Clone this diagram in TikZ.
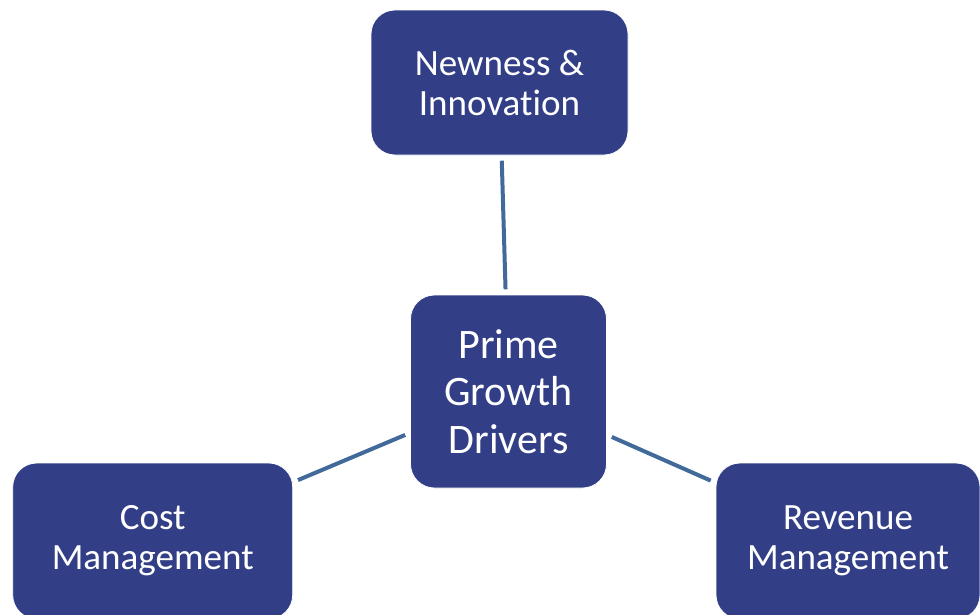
\documentclass[tikz,border=0pt]{standalone}
\usepackage{fontspec}
\setmainfont[Ligatures=NoCommon]{Carlito}
\definecolor{boxblue}{HTML}{323F87}
\definecolor{linkblue}{HTML}{41699A}
\begin{document}
\begin{tikzpicture}[x=0.75pt,y=-0.75pt,
  driver/.style={draw=white, line width=0.6pt, fill=boxblue, rounded corners=18pt,
    text=white, align=center, inner sep=0pt,
    font=\fontsize{27.8}{30}\selectfont},
  link/.style={draw=linkblue, line width=3pt, shorten <=4pt, shorten >=4pt}]
  \useasboundingbox (0,0) rectangle (980,614);
  \clip (0,0) rectangle (980,614);

  \node[driver, minimum width=192.75pt, minimum height=108.75pt] (newness) at (499.5,82.5) {Newness \&\\Innovation};
  \node[driver, minimum width=147pt, minimum height=144.75pt,
        font=\fontsize{31.5}{35.6}\selectfont] (prime) at (508.5,391.5) {Prime\\Growth\\Drivers};
  \node[driver, minimum width=210pt, minimum height=117pt] (cost) at (152.7,541) {Cost\\Management};
  \node[driver, minimum width=198pt, minimum height=117pt] (revenue) at (848,541) {Revenue\\Management};

  \draw[link] (newness) -- (prime);
  \draw[link] (prime) -- (cost);
  \draw[link] (prime) -- (revenue);
\end{tikzpicture}
\end{document}
